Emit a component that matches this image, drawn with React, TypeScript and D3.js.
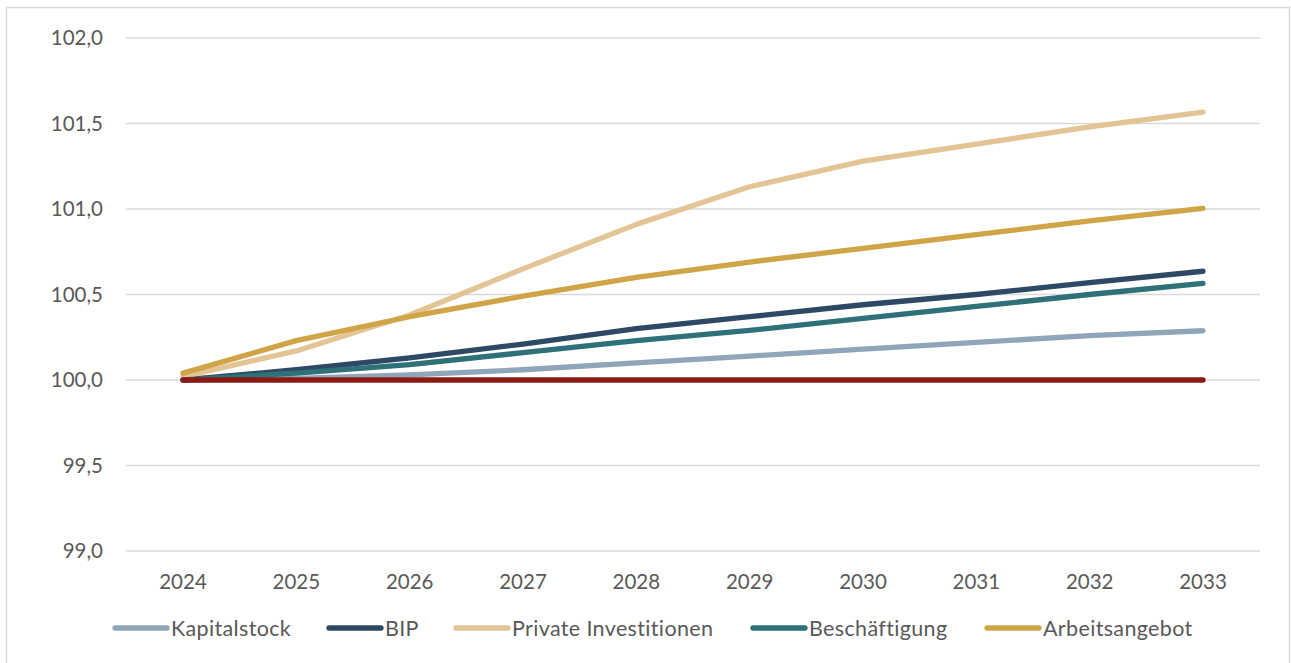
import React from "react";
import * as d3 from "d3";

const years = [2024, 2025, 2026, 2027, 2028, 2029, 2030, 2031, 2032, 2033];
const kapitalstock = [100.0, 100.01, 100.03, 100.06, 100.1, 100.14, 100.18, 100.22, 100.26, 100.288];
const bip = [100.0, 100.06, 100.13, 100.21, 100.3, 100.37, 100.44, 100.5, 100.57, 100.636];
const privateInv = [100.02, 100.17, 100.38, 100.65, 100.91, 101.13, 101.28, 101.38, 101.48, 101.567];
const beschaeftigung = [100.0, 100.04, 100.09, 100.16, 100.23, 100.29, 100.36, 100.43, 100.5, 100.565];
const arbeitsangebot = [100.04, 100.23, 100.37, 100.49, 100.6, 100.69, 100.77, 100.85, 100.93, 101.004];
const baseline = [100, 100, 100, 100, 100, 100, 100, 100, 100, 100];
const yTicks = [99.0, 99.5, 100.0, 100.5, 101.0, 101.5, 102.0];

const series = [
  { name: "Kapitalstock", values: kapitalstock, color: "#8fa5b9", legend: true },
  { name: "BIP", values: bip, color: "#2d4966", legend: true },
  { name: "Private Investitionen", values: privateInv, color: "#e3c595", legend: true },
  { name: "Beschäftigung", values: beschaeftigung, color: "#2e7179", legend: true },
  { name: "Arbeitsangebot", values: arbeitsangebot, color: "#cfa548", legend: true },
  { name: "Basis", values: baseline, color: "#8b1a14", legend: false },
];

const legendX = [113, 327, 454, 751, 985];

export default function App() {
  const W = 1291, H = 663;
  const x = d3.scalePoint<number>().domain(years).range([183, 1203]);
  const y = d3.scaleLinear().domain([99, 102]).range([551, 38]);
  const line = d3.line<number>().x((_, i) => x(years[i])!).y((d) => y(d));
  const font = "Lato, sans-serif";
  const txt = "#595959";
  const fs = 20.5;
  return (
    <div style={{ position: "absolute", left: 0, top: 0 }}>
      <svg width={W} height={H} style={{ display: "block", background: "#fff" }}>
        <rect x={6.5} y={7.5} width={1283} height={680} fill="#fff" stroke="#d9d9d9" strokeWidth={1.5} />
        {yTicks.map((t) => (
          <g key={t}>
            <line x1={126} x2={1260} y1={y(t)} y2={y(t)} stroke="#d9d9d9" strokeWidth={1.3} />
            <text x={103} y={y(t)} dy="0.35em" textAnchor="end" fontFamily={font} fontSize={fs} fill={txt}>
              {t.toFixed(1).replace(".", ",")}
            </text>
          </g>
        ))}
        {years.map((yr) => (
          <text key={yr} x={x(yr)!} y={582} dy="0.35em" textAnchor="middle" fontFamily={font} fontSize={fs} fill={txt}>
            {yr}
          </text>
        ))}
        {series.map((s) => (
          <path key={s.name} d={line(s.values)!} fill="none" stroke={s.color} strokeWidth={5.3}
            strokeLinecap="round" strokeLinejoin="round" />
        ))}
        {series.filter((s) => s.legend).map((s, i) => (
          <g key={s.name} transform={`translate(${legendX[i]},628)`}>
            <line x1={2} x2={54} y1={0} y2={0} stroke={s.color} strokeWidth={5.3} strokeLinecap="round" />
            <text x={58} y={0} dy="0.35em" fontFamily={font} fontSize={21.5} letterSpacing={0.35} fill={txt}>{s.name}</text>
          </g>
        ))}
      </svg>
    </div>
  );
}
